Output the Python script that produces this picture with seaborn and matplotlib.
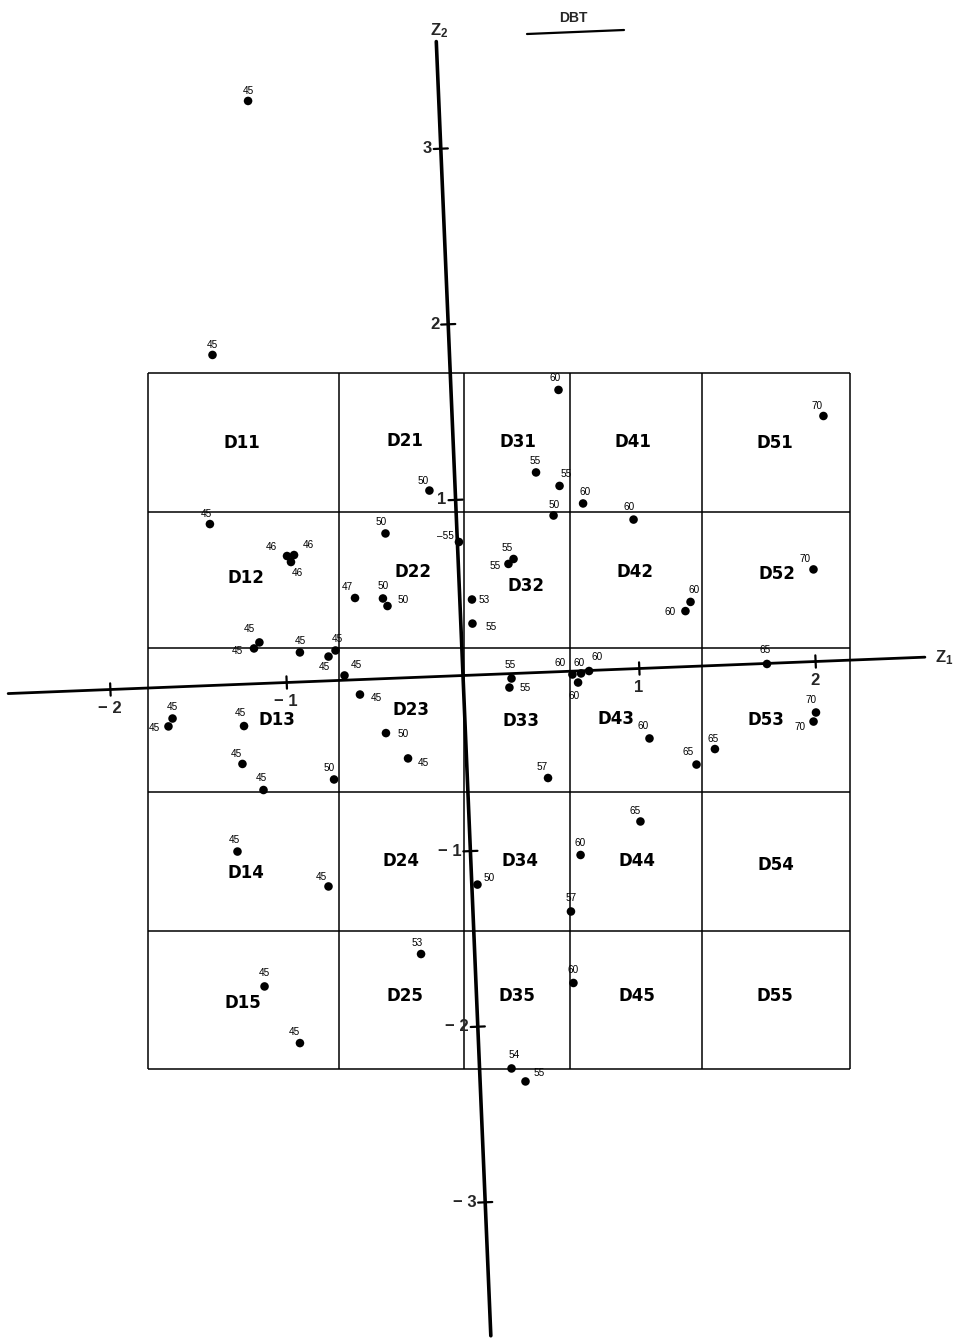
import numpy as np
import pandas as pd
import matplotlib
matplotlib.use("Agg")
import matplotlib.pyplot as plt
from matplotlib.transforms import Affine2D
import seaborn as sns

# Scores of each observation on the two discriminant axes and its DBT class
z1 = [-1.080, -1.342, -1.397, -0.146, -0.405, 0.009, -0.593, -0.435, -0.411, 0.069,
      0.066, 0.314, 0.284, 0.609, 0.462, 0.592, 0.721, 0.551, 1.003, 2.103,
      2.010, 1.306, 1.275, -0.968, -0.928, -0.947, -1.145, -1.177, -0.918, -0.716,
      -0.757, -0.671, -0.588, -1.655, -1.680, -1.252, -1.270, -1.157, -0.755, 0.274,
      0.260, -0.450, -0.331, 0.457, 0.620, 0.669, 0.715, 0.650, 1.041, 1.301,
      1.409, 1.724, 1.990, 1.974, 0.970, 0.623, 0.032, 0.555, -0.304, 0.552,
      0.181, 0.257, -1.319, -0.812, -1.198, -1.011]
z2 = [3.315, 1.879, 0.918, 1.059, 0.825, 0.760, 0.465, 0.456, 0.412, 0.430,
      0.293, 0.651, 0.624, 1.602, 1.138, 1.056, 0.951, 0.889, 0.848, 1.394,
      0.524, 0.367, 0.316, 0.719, 0.723, 0.684, 0.234, 0.201, 0.168, 0.171,
      0.138, 0.027, -0.085, -0.179, -0.223, -0.238, -0.453, -0.606, -0.562, -0.028,
      -0.079, -0.310, -0.459, -0.602, -0.019, -0.015, -0.003, -0.066, -0.400, -0.559,
      -0.475, -0.003, -0.290, -0.341, -0.870, -1.047, -1.192, -1.366, -1.574, -1.773,
      -2.245, -2.322, -0.950, -1.169, -1.723, -2.053]
dbt = [45, 45, 45, 50, 50, 55, 47, 50, 50, 53,
       55, 55, 55, 60, 55, 55, 60, 50, 60, 70,
       70, 60, 60, 46, 46, 46, 45, 45, 45, 45,
       45, 45, 45, 45, 45, 45, 45, 45, 50, 55,
       55, 50, 45, 57, 60, 60, 60, 60, 60, 65,
       65, 65, 70, 70, 65, 60, 50, 57, 53, 60,
       54, 55, 45, 45, 45, 45]

z1_ticks = [-2, -1, 1, 2]
z2_ticks = [3, 2, 1, -1, -2, -3]
cell_cols = [1, 2, 3, 4, 5]
cell_rows = [1, 2, 3, 4, 5]

# ---- layout (sheet pixels, y pointing down) ----
W, H = 959, 1338
origin = (463.0, 675.5)
e1 = (176.3, -7.0)      # one unit of Z1 on the sheet
e2 = (-7.4, -175.6)     # one unit of Z2 on the sheet
z1_span = (-2.58, 2.62)
z2_span = (-3.76, 3.61)
col_edges = [147.5, 339, 464, 570, 701.5, 850]
row_edges = [373, 511.5, 648, 792, 931, 1069]
cell_nudge = {
    (1, 1): (-1, 1), (2, 1): (3, -1), (3, 1): (1, 0), (4, 1): (-3, 0), (5, 1): (-1, 1),
    (1, 2): (3, -2), (2, 2): (11, -8), (3, 2): (9, 6), (4, 2): (-1, -8), (5, 2): (1, -6),
    (1, 3): (34, 0), (2, 3): (9, -10), (3, 3): (4, 1), (4, 3): (-20, -1), (5, 3): (-10, 0),
    (1, 4): (3, 12), (2, 4): (0, 0), (3, 4): (3, 0), (4, 4): (1, 0), (5, 4): (0, 4),
    (1, 5): (0, 3), (2, 5): (3, -4), (3, 5): (0, -4), (4, 5): (1, -4), (5, 5): (-1, -4),
}
# label offsets from each dot, in pixels (right, down)
lab_dx = [0, 0, -4, -6, -4, -14, -8, 0, 16, 12,
          19, -6, -13, -3, -1, 7, 2, 1, -4, -6,
          -8, 4, -15, -16, 14, 6, -10, -17, 0, 2,
          -4, 12, 16, 0, -14, -4, -6, -2, -5, -1,
          16, 17, 15, -6, -12, -2, 8, -4, -6, -8,
          -2, -2, -5, -13, -5, 0, 12, 0, -4, 0,
          3, 14, -3, -7, 0, -6]
lab_dy = [-10, -10, -10, -10, -11, -6, -11, -12, -6, 0,
          3, -11, 2, -12, -11, -12, -11, -11, -13, -10,
          -10, -12, 1, -9, -10, 11, -13, 3, -11, -11,
          10, -10, 3, -12, 2, -13, -10, -12, -11, -13,
          0, 1, 5, -11, -11, -10, -14, 13, -12, -13,
          -10, -14, -12, 5, -10, -12, -7, -13, -11, -13,
          -13, -8, -12, -9, -13, -11]

sns.set_style("white")
plt.rcParams["font.family"] = ["Liberation Sans", "DejaVu Sans"]
plt.rcParams["mathtext.default"] = "regular"

fig = plt.figure(figsize=(W / 100, H / 100), dpi=100)
ax = fig.add_axes([0, 0, 1, 1])
ax.set_xlim(0, W)
ax.set_ylim(H, 0)
ax.axis("off")

# transform from (Z1, Z2) to the sheet
zt = Affine2D(np.array([[e1[0], e2[0], origin[0]],
                        [e1[1], e2[1], origin[1]],
                        [0.0, 0.0, 1.0]])) + ax.transData

# grid of domains
ax.vlines(col_edges, row_edges[0], row_edges[-1], color="black", lw=1.1, zorder=1)
ax.hlines(row_edges, col_edges[0], col_edges[-1], color="black", lw=1.1, zorder=1)
for i, c in enumerate(cell_cols):
    for j, r in enumerate(cell_rows):
        nx, ny = cell_nudge[(c, r)]
        cx = (col_edges[i] + col_edges[i + 1]) / 2 + nx
        cy = (row_edges[j] + row_edges[j + 1]) / 2 + ny
        ax.text(cx, cy, f"D{c}{r}", ha="center", va="center", fontsize=12,
                fontweight="bold", family=["DejaVu Sans"], color="black")

# discriminant axes
ax.plot(list(z1_span), [0, 0], transform=zt, color="black", lw=2.0, zorder=2)
ax.plot([0, 0], list(z2_span), transform=zt, color="black", lw=2.6, zorder=2)
for t in z1_ticks:
    ax.plot([t, t], [-0.035, 0.035], transform=zt, color="black", lw=1.6)
    ax.annotate(f"{t}".replace("-", "\u2212 "), xy=(t, 0), xycoords=zt,
                xytext=(-1, -19), textcoords="offset pixels", ha="center",
                va="center", fontsize=12, fontweight="bold")
for t in z2_ticks:
    ax.plot([-0.04, 0.04], [t, t], transform=zt, color="black", lw=1.6)
    ax.annotate(f"{t}".replace("-", "\u2212 "), xy=(0, t), xycoords=zt,
                xytext=(-9, 0), textcoords="offset pixels", ha="right",
                va="center", fontsize=12, fontweight="bold")
ax.annotate("Z$_1$", xy=(z1_span[1], 0), xycoords=zt, xytext=(10, 0),
            textcoords="offset pixels", ha="left", va="center", fontsize=12,
            fontweight="bold")
ax.annotate("Z$_2$", xy=(0, z2_span[1]), xycoords=zt, xytext=(3, 2),
            textcoords="offset pixels", ha="center", va="bottom", fontsize=12,
            fontweight="bold")

# observations
df = pd.DataFrame({"z1": z1, "z2": z2, "dbt": dbt})
sns.scatterplot(data=df, x="z1", y="z2", ax=ax, transform=zt, color="black",
                s=38, edgecolor="none", legend=False, zorder=3)
for k, (a, b, v) in enumerate(zip(z1, z2, dbt)):
    txt = f"{v}"
    if k == 5:
        txt = "\u2013" + txt
    ax.annotate(txt, xy=(a, b), xycoords=zt, xytext=(lab_dx[k], -lab_dy[k]),
                textcoords="offset pixels", ha="center", va="center",
                fontsize=7.2, color="black")

# title
ax.text(573, 18, "DBT", ha="center", va="center", fontsize=10, fontweight="bold")
ax.plot([527, 624], [34, 30], color="black", lw=1.6)

ax.set_xlim(0, W)
ax.set_ylim(H, 0)
ax.axis("off")
fig.savefig("out.png", dpi=100, facecolor="white")
